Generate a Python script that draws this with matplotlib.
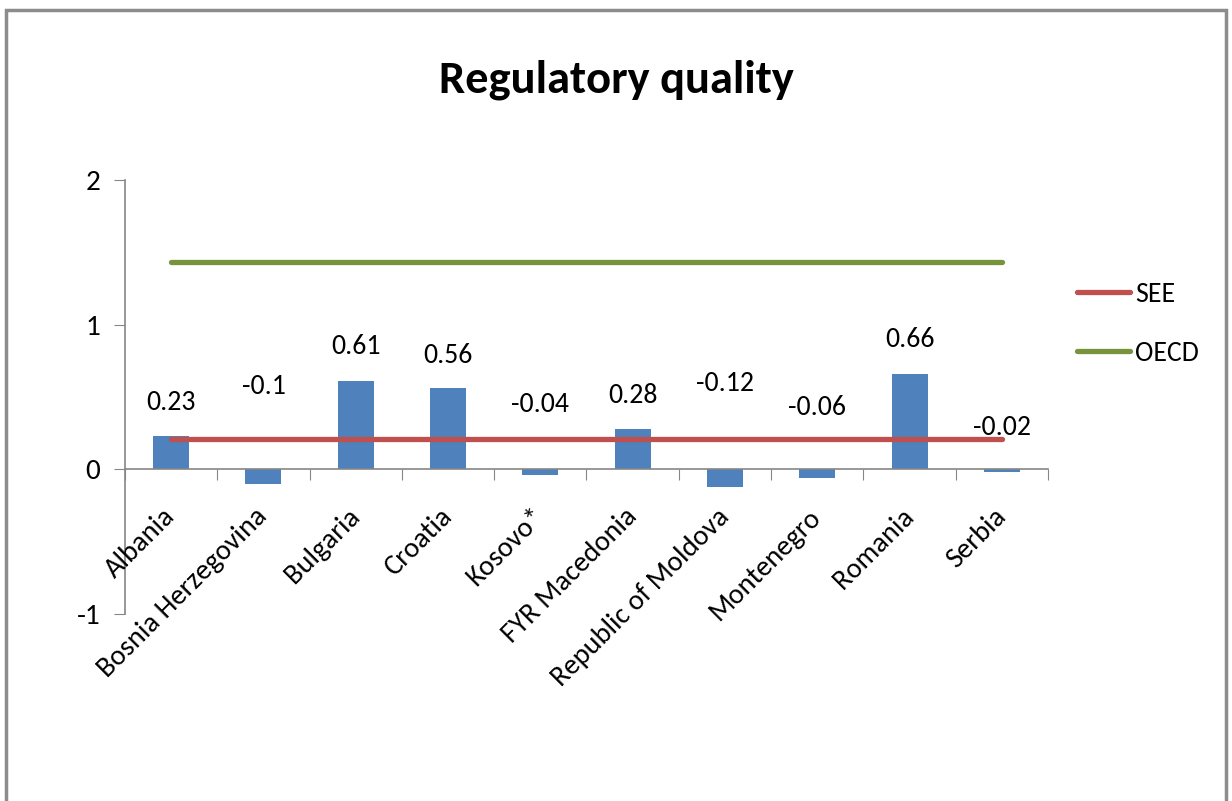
import matplotlib
matplotlib.use("Agg")
import matplotlib.pyplot as plt
from matplotlib.patches import Rectangle
import numpy as np

plt.rcParams['font.family'] = ['Carlito', 'Roboto Condensed', 'DejaVu Sans']

countries = ["Albania", "Bosnia Herzegovina", "Bulgaria", "Croatia", "Kosovo*",
             "FYR Macedonia", "Republic of Moldova", "Montenegro", "Romania", "Serbia"]
values = [0.23, -0.1, 0.61, 0.56, -0.04, 0.28, -0.12, -0.06, 0.66, -0.02]
value_labels = ["0.23", "-0.1", "0.61", "0.56", "-0.04", "0.28", "-0.12", "-0.06", "0.66", "-0.02"]
see_level = 0.207
oecd_level = 1.434
# where the data labels sit
label_y = [0.46, 0.57, 0.85, 0.79, 0.45, 0.51, 0.59, 0.43, 0.90, 0.29]

fig = plt.figure(figsize=(12.32, 8.01), dpi=100)
ax = fig.add_axes([0.1015, 0.2335, 0.7491, 0.5418])

x = np.arange(len(countries))
ax.bar(x, values, width=0.39, color='#4F81BD', zorder=2)
ax.plot(x, [see_level] * len(x), color='#C0504D', lw=3.8, solid_capstyle='round', zorder=3, label='SEE')
ax.plot(x, [oecd_level] * len(x), color='#77933C', lw=3.8, solid_capstyle='round', zorder=3, label='OECD')

for xi, lab, ly in zip(x, value_labels, label_y):
    ax.text(xi, ly, lab, ha='center', va='center', fontsize=20, color='black', zorder=4)

ax.set_xlim(-0.5, len(x) - 0.5)
ax.set_ylim(-1, 2)
ax.set_yticks([-1, 0, 1, 2])
ax.set_yticklabels(['-1', '0', '1', '2'], fontsize=21)

ax.spines['top'].set_visible(False)
ax.spines['right'].set_visible(False)
ax.spines['bottom'].set_position(('data', 0))
for s in ['left', 'bottom']:
    ax.spines[s].set_color('#868686')
    ax.spines[s].set_linewidth(1.2)
ax.tick_params(axis='y', direction='out', length=8, color='#868686', pad=10)
ax.set_xticks(np.arange(len(x) + 1) - 0.5)
ax.tick_params(axis='x', direction='out', length=8, color='#868686', labelbottom=False)

for xi, name in zip(x, countries):
    ax.text(xi + 0.0, -0.3, name, rotation=45, ha='right', va='center',
            rotation_mode='anchor', fontsize=20.5)

fig.text(0.5, 0.9, "Regulatory quality", ha='center', va='center',
         fontsize=33.5, fontweight='bold')

leg = fig.legend(loc='upper left', bbox_to_anchor=(0.874, 0.648), frameon=False,
                 fontsize=20, handlelength=1.9, handletextpad=0.2, labelspacing=1.22,
                 borderaxespad=0, borderpad=0)

fig.patches.append(Rectangle((0.005, -0.05), 0.99, 1.037, transform=fig.transFigure,
                             fill=False, edgecolor='#8c8c8c', lw=2.5))

fig.savefig("out.png", dpi=100)
